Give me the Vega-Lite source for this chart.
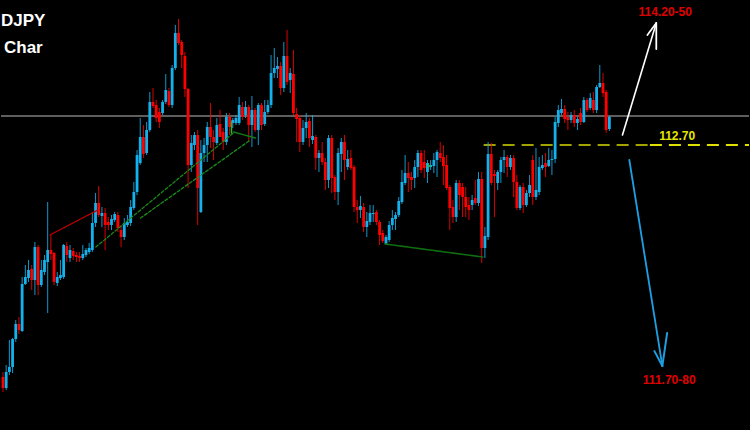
{
"$schema":"https://vega.github.io/schema/vega-lite/v6.json",
"width":750,"height":430,
"autosize":{"type":"fit","contains":"padding"},
"padding":0,
"background":"#000000",
"config":{"view":{"stroke":null},"font":"Liberation Sans","scale":{"continuousPadding":0}},
"datasets":{
"candles":[
{"i":0,"o":110.38,"h":110.43,"l":110.23,"c":110.27},
{"i":1,"o":110.27,"h":110.50,"l":110.25,"c":110.43},
{"i":2,"o":110.43,"h":110.75,"l":110.40,"c":110.48},
{"i":3,"o":110.48,"h":110.77,"l":110.42,"c":110.76},
{"i":4,"o":110.76,"h":110.95,"l":110.73,"c":110.91},
{"i":5,"o":110.91,"h":110.98,"l":110.81,"c":110.85},
{"i":6,"o":110.84,"h":111.38,"l":110.83,"c":111.31},
{"i":7,"o":111.31,"h":111.50,"l":111.30,"c":111.38},
{"i":8,"o":111.37,"h":111.55,"l":111.33,"c":111.45},
{"i":9,"o":111.46,"h":111.50,"l":111.25,"c":111.35},
{"i":10,"o":111.35,"h":111.73,"l":111.20,"c":111.68},
{"i":11,"o":111.68,"h":111.70,"l":111.20,"c":111.30},
{"i":12,"o":111.30,"h":111.55,"l":111.28,"c":111.45},
{"i":13,"o":111.43,"h":111.60,"l":111.40,"c":111.55},
{"i":14,"o":111.53,"h":112.13,"l":111.02,"c":111.65},
{"i":15,"o":111.65,"h":111.80,"l":111.55,"c":111.61},
{"i":16,"o":111.62,"h":111.63,"l":111.30,"c":111.33},
{"i":17,"o":111.32,"h":111.43,"l":111.29,"c":111.38},
{"i":18,"o":111.37,"h":111.55,"l":111.35,"c":111.40},
{"i":19,"o":111.38,"h":111.71,"l":111.36,"c":111.70},
{"i":20,"o":111.69,"h":111.73,"l":111.53,"c":111.60},
{"i":21,"o":111.57,"h":111.70,"l":111.53,"c":111.65},
{"i":22,"o":111.64,"h":111.67,"l":111.55,"c":111.59},
{"i":23,"o":111.60,"h":111.63,"l":111.53,"c":111.58},
{"i":24,"o":111.59,"h":111.63,"l":111.53,"c":111.57},
{"i":25,"o":111.57,"h":111.70,"l":111.55,"c":111.61},
{"i":26,"o":111.60,"h":111.67,"l":111.58,"c":111.65},
{"i":27,"o":111.63,"h":111.72,"l":111.61,"c":111.67},
{"i":28,"o":111.65,"h":112.03,"l":111.63,"c":111.92},
{"i":29,"o":111.92,"h":112.22,"l":111.88,"c":112.12},
{"i":30,"o":112.12,"h":112.29,"l":111.98,"c":112.00},
{"i":31,"o":111.99,"h":112.08,"l":111.88,"c":112.02},
{"i":32,"o":112.02,"h":112.07,"l":111.65,"c":111.90},
{"i":33,"o":111.93,"h":111.98,"l":111.85,"c":111.90},
{"i":34,"o":111.90,"h":112.00,"l":111.85,"c":111.96},
{"i":35,"o":111.95,"h":112.03,"l":111.93,"c":112.01},
{"i":36,"o":112.00,"h":112.03,"l":111.83,"c":111.87},
{"i":37,"o":111.85,"h":111.90,"l":111.68,"c":111.78},
{"i":38,"o":111.78,"h":111.97,"l":111.75,"c":111.92},
{"i":39,"o":111.90,"h":112.00,"l":111.88,"c":111.93},
{"i":40,"o":111.92,"h":112.15,"l":111.89,"c":112.08},
{"i":41,"o":112.07,"h":112.33,"l":112.05,"c":112.23},
{"i":42,"o":112.23,"h":112.65,"l":112.20,"c":112.60},
{"i":43,"o":112.52,"h":112.97,"l":112.50,"c":112.78},
{"i":44,"o":112.78,"h":112.90,"l":112.57,"c":112.61},
{"i":45,"o":112.62,"h":112.93,"l":112.60,"c":112.85},
{"i":46,"o":112.85,"h":113.23,"l":112.83,"c":113.13},
{"i":47,"o":113.13,"h":113.27,"l":113.07,"c":113.09},
{"i":48,"o":113.10,"h":113.15,"l":112.93,"c":112.97},
{"i":49,"o":113.03,"h":113.07,"l":112.87,"c":112.93},
{"i":50,"o":113.02,"h":113.15,"l":113.00,"c":113.13},
{"i":51,"o":113.13,"h":113.41,"l":113.11,"c":113.25},
{"i":52,"o":113.24,"h":113.27,"l":113.08,"c":113.10},
{"i":53,"o":113.10,"h":113.50,"l":113.07,"c":113.47},
{"i":54,"o":113.47,"h":113.90,"l":113.45,"c":113.82},
{"i":55,"o":113.82,"h":113.96,"l":113.70,"c":113.72},
{"i":56,"o":113.73,"h":113.75,"l":113.47,"c":113.60},
{"i":57,"o":113.59,"h":113.63,"l":113.18,"c":113.26},
{"i":58,"o":113.26,"h":113.27,"l":112.27,"c":112.50},
{"i":59,"o":112.50,"h":112.80,"l":112.43,"c":112.72},
{"i":60,"o":112.70,"h":112.83,"l":112.65,"c":112.80},
{"i":61,"o":112.80,"h":112.85,"l":111.90,"c":112.27},
{"i":62,"o":112.03,"h":112.75,"l":112.02,"c":112.62},
{"i":63,"o":112.62,"h":112.77,"l":112.53,"c":112.70},
{"i":64,"o":112.70,"h":112.93,"l":112.53,"c":112.88},
{"i":65,"o":112.88,"h":113.12,"l":112.67,"c":112.78},
{"i":66,"o":112.78,"h":112.85,"l":112.55,"c":112.73},
{"i":67,"o":112.72,"h":112.97,"l":112.70,"c":112.90},
{"i":68,"o":112.91,"h":113.05,"l":112.80,"c":112.78},
{"i":69,"o":112.83,"h":112.87,"l":112.65,"c":112.73},
{"i":70,"o":112.73,"h":113.02,"l":112.70,"c":112.98},
{"i":71,"o":112.98,"h":113.02,"l":112.80,"c":112.88},
{"i":72,"o":112.92,"h":112.97,"l":112.87,"c":112.95},
{"i":73,"o":112.92,"h":113.00,"l":112.90,"c":112.97},
{"i":74,"o":112.92,"h":113.18,"l":112.90,"c":113.10},
{"i":75,"o":113.08,"h":113.13,"l":112.95,"c":112.98},
{"i":76,"o":113.00,"h":113.14,"l":112.97,"c":113.08},
{"i":77,"o":113.08,"h":113.10,"l":112.73,"c":112.90},
{"i":78,"o":112.90,"h":113.19,"l":112.68,"c":113.05},
{"i":79,"o":113.05,"h":113.07,"l":112.83,"c":112.85},
{"i":80,"o":112.85,"h":113.12,"l":112.70,"c":113.10},
{"i":81,"o":113.10,"h":113.12,"l":112.85,"c":112.90},
{"i":82,"o":112.91,"h":113.15,"l":112.89,"c":113.03},
{"i":83,"o":113.03,"h":113.15,"l":113.01,"c":113.10},
{"i":84,"o":113.10,"h":113.60,"l":113.07,"c":113.42},
{"i":85,"o":113.42,"h":113.67,"l":113.37,"c":113.47},
{"i":86,"o":113.46,"h":113.58,"l":113.37,"c":113.49},
{"i":87,"o":113.49,"h":113.53,"l":113.20,"c":113.27},
{"i":88,"o":113.27,"h":113.73,"l":113.23,"c":113.59},
{"i":89,"o":113.59,"h":113.85,"l":113.30,"c":113.33},
{"i":90,"o":113.35,"h":113.47,"l":113.22,"c":113.42},
{"i":91,"o":113.41,"h":113.65,"l":113.00,"c":113.02},
{"i":92,"o":113.01,"h":113.07,"l":112.73,"c":112.96},
{"i":93,"o":112.97,"h":113.00,"l":112.63,"c":112.73},
{"i":94,"o":112.73,"h":112.95,"l":112.70,"c":112.87},
{"i":95,"o":112.87,"h":113.02,"l":112.77,"c":112.93},
{"i":96,"o":112.94,"h":112.97,"l":112.68,"c":112.77},
{"i":97,"o":112.75,"h":113.00,"l":112.71,"c":112.79},
{"i":98,"o":112.78,"h":112.80,"l":112.45,"c":112.57},
{"i":99,"o":112.57,"h":112.65,"l":112.43,"c":112.62},
{"i":100,"o":112.62,"h":112.73,"l":112.50,"c":112.53},
{"i":101,"o":112.53,"h":112.57,"l":112.25,"c":112.35},
{"i":102,"o":112.35,"h":112.80,"l":112.27,"c":112.77},
{"i":103,"o":112.77,"h":112.80,"l":112.22,"c":112.37},
{"i":104,"o":112.38,"h":112.40,"l":112.15,"c":112.23},
{"i":105,"o":112.23,"h":112.67,"l":112.10,"c":112.62},
{"i":106,"o":112.61,"h":112.77,"l":112.43,"c":112.73},
{"i":107,"o":112.73,"h":112.80,"l":112.35,"c":112.55},
{"i":108,"o":112.48,"h":112.65,"l":112.45,"c":112.56},
{"i":109,"o":112.57,"h":112.65,"l":112.45,"c":112.47},
{"i":110,"o":112.48,"h":112.50,"l":112.03,"c":112.08},
{"i":111,"o":112.08,"h":112.15,"l":111.92,"c":112.05},
{"i":112,"o":112.05,"h":112.19,"l":111.97,"c":112.09},
{"i":113,"o":112.08,"h":112.12,"l":111.83,"c":111.88},
{"i":114,"o":111.88,"h":112.03,"l":111.78,"c":111.94},
{"i":115,"o":111.93,"h":112.10,"l":111.90,"c":112.02},
{"i":116,"o":112.01,"h":112.10,"l":111.93,"c":112.02},
{"i":117,"o":112.03,"h":112.05,"l":111.90,"c":111.93},
{"i":118,"o":111.93,"h":111.95,"l":111.70,"c":111.80},
{"i":119,"o":111.82,"h":111.85,"l":111.72,"c":111.74},
{"i":120,"o":111.71,"h":111.80,"l":111.70,"c":111.78},
{"i":121,"o":111.75,"h":111.94,"l":111.73,"c":111.90},
{"i":122,"o":111.90,"h":112.05,"l":111.85,"c":111.97},
{"i":123,"o":111.96,"h":112.03,"l":111.85,"c":112.00},
{"i":124,"o":112.00,"h":112.18,"l":111.98,"c":112.14},
{"i":125,"o":112.13,"h":112.45,"l":112.11,"c":112.33},
{"i":126,"o":112.32,"h":112.60,"l":112.30,"c":112.42},
{"i":127,"o":112.42,"h":112.53,"l":112.23,"c":112.37},
{"i":128,"o":112.38,"h":112.43,"l":112.25,"c":112.35},
{"i":129,"o":112.37,"h":112.55,"l":112.27,"c":112.48},
{"i":130,"o":112.48,"h":112.65,"l":112.38,"c":112.62},
{"i":131,"o":112.62,"h":112.65,"l":112.42,"c":112.45},
{"i":132,"o":112.53,"h":112.65,"l":112.37,"c":112.47},
{"i":133,"o":112.43,"h":112.55,"l":112.32,"c":112.52},
{"i":134,"o":112.48,"h":112.55,"l":112.45,"c":112.50},
{"i":135,"o":112.49,"h":112.62,"l":112.42,"c":112.55},
{"i":136,"o":112.55,"h":112.65,"l":112.38,"c":112.63},
{"i":137,"o":112.62,"h":112.73,"l":112.53,"c":112.57},
{"i":138,"o":112.58,"h":112.70,"l":112.30,"c":112.49},
{"i":139,"o":112.50,"h":112.60,"l":112.25,"c":112.27},
{"i":140,"o":112.28,"h":112.30,"l":111.85,"c":112.07},
{"i":141,"o":112.08,"h":112.15,"l":111.92,"c":111.98},
{"i":142,"o":111.98,"h":112.35,"l":111.93,"c":112.32},
{"i":143,"o":112.32,"h":112.35,"l":112.05,"c":112.20},
{"i":144,"o":112.28,"h":112.32,"l":111.98,"c":112.18},
{"i":145,"o":112.18,"h":112.28,"l":111.98,"c":112.08},
{"i":146,"o":112.10,"h":112.18,"l":111.95,"c":112.05},
{"i":147,"o":112.10,"h":112.20,"l":112.05,"c":112.15},
{"i":148,"o":112.17,"h":112.35,"l":112.10,"c":112.12},
{"i":149,"o":112.12,"h":112.43,"l":112.09,"c":112.36},
{"i":150,"o":112.36,"h":112.43,"l":111.52,"c":111.67},
{"i":151,"o":111.67,"h":111.88,"l":111.57,"c":111.79},
{"i":152,"o":111.78,"h":112.73,"l":111.75,"c":112.61},
{"i":153,"o":112.61,"h":112.72,"l":112.30,"c":112.32},
{"i":154,"o":112.41,"h":112.45,"l":111.98,"c":112.39},
{"i":155,"o":112.32,"h":112.45,"l":112.25,"c":112.43},
{"i":156,"o":112.43,"h":112.58,"l":112.32,"c":112.55},
{"i":157,"o":112.55,"h":112.65,"l":112.42,"c":112.58},
{"i":158,"o":112.58,"h":112.60,"l":112.38,"c":112.48},
{"i":159,"o":112.48,"h":112.60,"l":112.45,"c":112.57},
{"i":160,"o":112.57,"h":112.60,"l":112.18,"c":112.33},
{"i":161,"o":112.33,"h":112.40,"l":112.05,"c":112.07},
{"i":162,"o":112.07,"h":112.30,"l":112.05,"c":112.28},
{"i":163,"o":112.28,"h":112.32,"l":112.02,"c":112.10},
{"i":164,"o":112.10,"h":112.25,"l":112.08,"c":112.22},
{"i":165,"o":112.22,"h":112.40,"l":112.18,"c":112.30},
{"i":166,"o":112.55,"h":112.60,"l":112.10,"c":112.18},
{"i":167,"o":112.18,"h":112.67,"l":112.15,"c":112.25},
{"i":168,"o":112.23,"h":112.58,"l":112.20,"c":112.48},
{"i":169,"o":112.47,"h":112.60,"l":112.45,"c":112.50},
{"i":170,"o":112.52,"h":112.62,"l":112.38,"c":112.48},
{"i":171,"o":112.49,"h":112.67,"l":112.48,"c":112.55},
{"i":172,"o":112.55,"h":112.65,"l":112.40,"c":112.56},
{"i":173,"o":112.56,"h":112.98,"l":112.52,"c":112.93},
{"i":174,"o":112.92,"h":113.10,"l":112.88,"c":113.05},
{"i":175,"o":113.02,"h":113.16,"l":113.00,"c":113.06},
{"i":176,"o":113.06,"h":113.10,"l":112.92,"c":112.96},
{"i":177,"o":112.98,"h":113.03,"l":112.85,"c":112.95},
{"i":178,"o":112.95,"h":113.03,"l":112.92,"c":113.00},
{"i":179,"o":113.00,"h":113.05,"l":112.88,"c":112.92},
{"i":180,"o":112.92,"h":112.98,"l":112.85,"c":112.96},
{"i":181,"o":113.02,"h":113.07,"l":112.90,"c":112.93},
{"i":182,"o":112.93,"h":113.18,"l":112.92,"c":113.15},
{"i":183,"o":113.15,"h":113.17,"l":113.03,"c":113.05},
{"i":184,"o":113.07,"h":113.22,"l":113.05,"c":113.17},
{"i":185,"o":113.15,"h":113.23,"l":113.02,"c":113.05},
{"i":186,"o":113.05,"h":113.30,"l":113.02,"c":113.28},
{"i":187,"o":113.28,"h":113.50,"l":113.27,"c":113.32},
{"i":188,"o":113.32,"h":113.42,"l":113.18,"c":113.22},
{"i":189,"o":113.23,"h":113.25,"l":112.82,"c":112.85},
{"i":190,"o":112.86,"h":112.99,"l":112.84,"c":112.98}
],
"lines":[
{"id":"redTrend","ord":0,"i":14.7,"p":111.80},{"id":"redTrend","ord":1,"i":29.7,"p":112.05},
{"id":"dotA","ord":0,"i":29.1,"p":111.68},{"id":"dotA","ord":1,"i":72.2,"p":112.82},
{"id":"dotB","ord":0,"i":43.1,"p":111.97},{"id":"dotB","ord":1,"i":77.5,"p":112.75},
{"id":"solidG","ord":0,"i":72.2,"p":112.83},{"id":"solidG","ord":1,"i":79.1,"p":112.77},
{"id":"vertG","ord":0,"i":71.6,"p":112.93},{"id":"vertG","ord":1,"i":71.6,"p":112.82},
{"id":"lowG","ord":0,"i":119.7,"p":111.71},{"id":"lowG","ord":1,"i":150.3,"p":111.58},
{"id":"upArrow","ord":0,"i":194.1,"p":112.80},{"id":"upArrow","ord":1,"i":204.7,"p":113.92},
{"id":"upHeadL","ord":0,"i":201.9,"p":113.80},{"id":"upHeadL","ord":1,"i":204.7,"p":113.92},
{"id":"upHeadR","ord":0,"i":204.7,"p":113.66},{"id":"upHeadR","ord":1,"i":204.7,"p":113.92},
{"id":"dnArrow","ord":0,"i":196.25,"p":112.55},{"id":"dnArrow","ord":1,"i":206.6,"p":110.49},
{"id":"dnHeadL","ord":0,"i":204.1,"p":110.64},{"id":"dnHeadL","ord":1,"i":206.6,"p":110.49},
{"id":"dnHeadR","ord":0,"i":208.1,"p":110.82},{"id":"dnHeadR","ord":1,"i":206.6,"p":110.49}
]
},
"layer":[
{"data":{"values":[{"p":112.99}]},
 "mark":{"type":"rule","color":"#5e5e5e","strokeWidth":2},
 "encoding":{"y":{"field":"p","type":"quantitative","scale":{"domain":[109.85,114.15],"nice":false,"zero":false,"padding":0},"axis":null}}},
{"data":{"values":[{"a":150.6,"b":202.5,"p":112.70}]},
 "mark":{"type":"rule","color":"#a3a300","strokeWidth":2,"strokeDash":[12,7]},
 "encoding":{"x":{"field":"a","type":"quantitative","scale":{"domain":[-0.625,233.75],"nice":false,"zero":false,"padding":0},"axis":null},"x2":{"field":"b"},
  "y":{"field":"p","type":"quantitative","scale":{"domain":[109.85,114.15],"nice":false,"zero":false,"padding":0},"axis":null}}},
{"data":{"values":[{"a":202.7,"b":233.75,"p":112.70}]},
 "mark":{"type":"rule","color":"#e0e000","strokeWidth":2,"strokeDash":[12,7]},
 "encoding":{"x":{"field":"a","type":"quantitative","scale":{"domain":[-0.625,233.75],"nice":false,"zero":false,"padding":0},"axis":null},"x2":{"field":"b"},
  "y":{"field":"p","type":"quantitative","scale":{"domain":[109.85,114.15],"nice":false,"zero":false,"padding":0},"axis":null}}},
{"data":{"name":"candles"},
 "mark":{"type":"rule","strokeWidth":1,"opacity":0.85},
 "encoding":{"x":{"field":"i","type":"quantitative","scale":{"domain":[-0.625,233.75],"nice":false,"zero":false,"padding":0},"axis":null},
  "y":{"field":"l","type":"quantitative","scale":{"domain":[109.85,114.15],"nice":false,"zero":false,"padding":0},"axis":null},"y2":{"field":"h"},
  "color":{"condition":{"test":"datum.c >= datum.o","value":"#14b2ec"},"value":"#ff0000"}}},
{"data":{"name":"candles"},
 "mark":{"type":"bar","width":2.8},
 "encoding":{"x":{"field":"i","type":"quantitative","scale":{"domain":[-0.625,233.75],"nice":false,"zero":false,"padding":0},"axis":null},
  "y":{"field":"o","type":"quantitative","scale":{"domain":[109.85,114.15],"nice":false,"zero":false,"padding":0},"axis":null},"y2":{"field":"c"},
  "color":{"condition":{"test":"datum.c >= datum.o","value":"#14b2ec"},"value":"#ff0000"}}},
{"data":{"name":"lines"},
 "mark":{"type":"line","strokeCap":"round"},
 "encoding":{"x":{"field":"i","type":"quantitative","scale":{"domain":[-0.625,233.75],"nice":false,"zero":false,"padding":0},"axis":null},
  "y":{"field":"p","type":"quantitative","scale":{"domain":[109.85,114.15],"nice":false,"zero":false,"padding":0},"axis":null},
  "order":{"field":"ord","type":"quantitative"},
  "detail":{"field":"id","type":"nominal"},
  "color":{"field":"id","type":"nominal","legend":null,"scale":{"domain":["redTrend","dotA","dotB","solidG","vertG","lowG","upArrow","upHeadL","upHeadR","dnArrow","dnHeadL","dnHeadR"],"range":["#b80000","#1a8a1a","#1a8a1a","#127a12","#2fb82f","#0e6e0e","#ffffff","#ffffff","#ffffff","#1e9ee0","#1e9ee0","#1e9ee0"]}},
  "strokeDash":{"field":"id","type":"nominal","legend":null,"scale":{"domain":["redTrend","dotA","dotB","solidG","vertG","lowG","upArrow","upHeadL","upHeadR","dnArrow","dnHeadL","dnHeadR"],"range":[[1,0],[3,2],[3,2],[1,0],[1,0],[1,0],[1,0],[1,0],[1,0],[1,0],[1,0],[1,0]]}},
  "strokeWidth":{"field":"id","type":"nominal","legend":null,"scale":{"domain":["redTrend","dotA","dotB","solidG","vertG","lowG","upArrow","upHeadL","upHeadR","dnArrow","dnHeadL","dnHeadR"],"range":[1.2,2,2,1.2,1.2,1.6,2.5,2.5,2.5,2.5,2.5,2.5]}}}},
{"data":{"values":[{"i":133.4,"p":112.49}]},
 "mark":{"type":"point","shape":"M-1,0H1M0,-1V1","size":30,"filled":false,"color":"#30c030","strokeWidth":1},
 "encoding":{"x":{"field":"i","type":"quantitative","scale":{"domain":[-0.625,233.75],"nice":false,"zero":false,"padding":0},"axis":null},
  "y":{"field":"p","type":"quantitative","scale":{"domain":[109.85,114.15],"nice":false,"zero":false,"padding":0},"axis":null}}},
{"data":{"values":[{"t":"114.20-50","i":207.5,"p":114.03},{"t":"111.70-80","i":208.75,"p":110.35}]},
 "mark":{"type":"text","color":"#e00000","fontWeight":"bold","fontSize":12,"font":"Liberation Sans","align":"center","baseline":"middle"},
 "encoding":{"x":{"field":"i","type":"quantitative","scale":{"domain":[-0.625,233.75],"nice":false,"zero":false,"padding":0},"axis":null},
  "y":{"field":"p","type":"quantitative","scale":{"domain":[109.85,114.15],"nice":false,"zero":false,"padding":0},"axis":null},"text":{"field":"t"}}},
{"data":{"values":[{"t":"112.70","i":211.25,"p":112.795}]},
 "mark":{"type":"text","color":"#e6e600","fontWeight":"bold","fontSize":12,"font":"Liberation Sans","align":"center","baseline":"middle"},
 "encoding":{"x":{"field":"i","type":"quantitative","scale":{"domain":[-0.625,233.75],"nice":false,"zero":false,"padding":0},"axis":null},
  "y":{"field":"p","type":"quantitative","scale":{"domain":[109.85,114.15],"nice":false,"zero":false,"padding":0},"axis":null},"text":{"field":"t"}}},
{"data":{"values":[{"t":"DJPY","i":-0.625,"p":113.94},{"t":"Char","i":0.31,"p":113.67}]},
 "mark":{"type":"text","color":"#ffffff","fontWeight":"bold","fontSize":17,"font":"Liberation Sans","align":"left","baseline":"middle"},
 "encoding":{"x":{"field":"i","type":"quantitative","scale":{"domain":[-0.625,233.75],"nice":false,"zero":false,"padding":0},"axis":null},
  "y":{"field":"p","type":"quantitative","scale":{"domain":[109.85,114.15],"nice":false,"zero":false,"padding":0},"axis":null},"text":{"field":"t"}}}
]
}
